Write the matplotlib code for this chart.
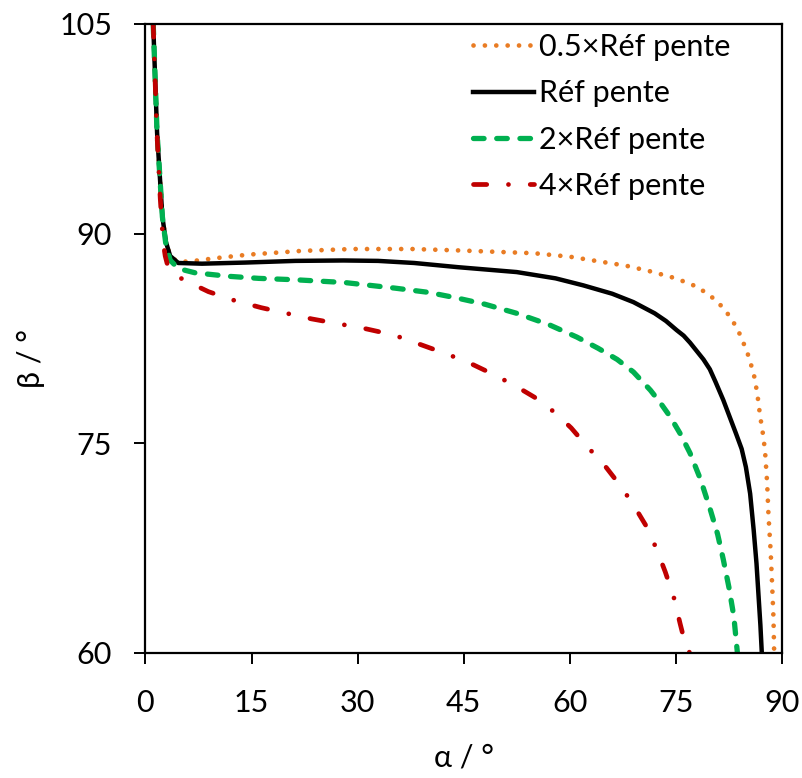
import matplotlib
matplotlib.use("Agg")
from matplotlib import pyplot as plt

plt.rcParams['font.family'] = ['Lato', 'DejaVu Sans']

# 0.5 x reference slope
alpha_half = [1.1, 1.65, 2.4, 2.9, 3.5, 4.5, 6.1, 10, 14.6, 21.9, 29.2, 37.7, 44.2, 54.9, 60, 64.3,
              68, 71.4, 75, 78.0, 80, 81.7, 83, 84.1, 85.1, 86.0, 86.5, 86.9, 87.3, 87.6, 87.9, 88.1,
              88.4, 88.6, 88.8, 88.9]
beta_half = [105, 97.2, 91.2, 89.5, 88.4, 88.0, 88.0, 88.25, 88.5, 88.76, 88.9, 88.9, 88.8, 88.6, 88.35, 88.0,
             87.7, 87.3, 86.8, 86.2, 85.5, 84.7, 83.8, 82.75, 81.5, 80.0, 78.6, 77.0, 75.7, 74.5, 72.2, 69.8,
             67.3, 65.0, 62.5, 60]

# reference slope
alpha_ref = [1.1, 1.65, 2.4, 2.9, 3.5, 4.65, 8, 14.1, 21.2, 28, 32.9, 38, 44.2, 52.5, 58, 61.9, 66,
             69.0, 72, 73.6, 75.1, 76.1, 77, 78.9, 79.8, 80.6, 81.7, 82.6, 83.5, 84.3, 84.9, 85.5,
             86.0, 86.4, 86.7, 86.95, 87.15]
beta_ref = [105, 97.2, 91.2, 89.4, 88.4, 87.9, 87.85, 87.93, 88.05, 88.08, 88.05, 87.9, 87.6, 87.25, 86.8, 86.3, 85.7,
            85.1, 84.3, 83.75, 83.1, 82.7, 82.2, 81.0, 80.3, 79.4, 78.1, 76.9, 75.7, 74.6, 73.3, 71.4,
            68.8, 66.4, 64.0, 62.0, 60]

# 2 x reference slope
alpha_2x = [1.1, 1.65, 2.4, 2.9, 3.5, 4.65, 7, 11.7, 16, 21.2, 28.2, 35.3, 40, 44.0, 48, 52.5, 57, 61.0,
            64, 66.7, 69, 71.4, 72.8, 74.2, 75.6, 77.0, 78.5, 79.9, 80.9, 81.7, 82.5, 83.2, 83.7]
beta_2x = [105, 97.2, 91.2, 89.2, 88.1, 87.5, 87.2, 86.95, 86.8, 86.7, 86.5, 86.1, 85.8, 85.4, 84.95, 84.3, 83.5, 82.6,
           81.8, 81.0, 80.1, 78.8, 77.9, 76.9, 75.7, 74.3, 72.4, 70.2, 68.5, 66.7, 64.7, 62.6, 60]

# 4 x reference slope
alpha_4x = [1.1, 1.6, 2.1, 2.5, 2.8, 3.2, 4, 5.4, 8.9, 12.7, 16.4, 23.5, 31.1, 35.1, 38.7, 42, 45.4, 48.5,
            52.0, 55, 57.9, 60.2, 62.4, 64.8, 67.1, 69, 70.9, 72.3, 73.5, 74.7, 75.6, 76.5, 77.0]
beta_4x = [105, 97.5, 92.5, 89.4, 88.4, 87.6, 87.1, 86.7, 85.85, 85.2, 84.7, 83.9, 83.2, 82.75, 82.1, 81.5, 80.85, 80.1,
           79.2, 78.3, 77.2, 76.1, 74.8, 73.5, 72.0, 70.6, 69.0, 67.4, 65.8, 64.0, 62.1, 60.3, 60]

labels = ["0.5×Réf pente", "Réf pente", "2×Réf pente", "4×Réf pente"]
xticks = [0, 15, 30, 45, 60, 75, 90]
yticks = [60, 75, 90, 105]

fig = plt.figure(figsize=(8.03, 7.78), dpi=100)
ax = fig.add_axes([0.1811, 0.1607, 0.7927, 0.8085])

ax.plot(alpha_half, beta_half, color="#E97C24", lw=3.4, dashes=(0.01, 2.4),
        dash_capstyle="round", label=labels[0])
ax.plot(alpha_ref, beta_ref, color="black", lw=3.2, label=labels[1])
ax.plot(alpha_2x, beta_2x, color="#00B050", lw=3.8, dashes=(2.0, 2.4),
        dash_capstyle="round", label=labels[2])
ax.plot(alpha_4x, beta_4x, color="#C00000", lw=3.4, dashes=(2.8, 4.6, 0.01, 4.6),
        dash_capstyle="round", label=labels[3])

ax.set_xlim(0, 90)
ax.set_ylim(60, 105)
ax.set_xticks(xticks)
ax.set_yticks(yticks)
ax.tick_params(labelsize=22, length=8, width=1.4, direction="out")
ax.tick_params(axis="x", pad=18)
ax.tick_params(axis="y", pad=16)
for s in ax.spines.values():
    s.set_linewidth(1.6)

ax.set_xlabel("α / °", fontsize=22, labelpad=19)
ax.set_ylabel("β / °", fontsize=22)
ax.yaxis.set_label_coords(-0.158, 0.468)

ax.legend(loc="upper left", bbox_to_anchor=(0.5, 1.0), frameon=False, fontsize=22,
          handlelength=2.0, handletextpad=0.15, labelspacing=0.6, borderaxespad=0.1,
          borderpad=0.2)

fig.savefig("out.png", dpi=100)
